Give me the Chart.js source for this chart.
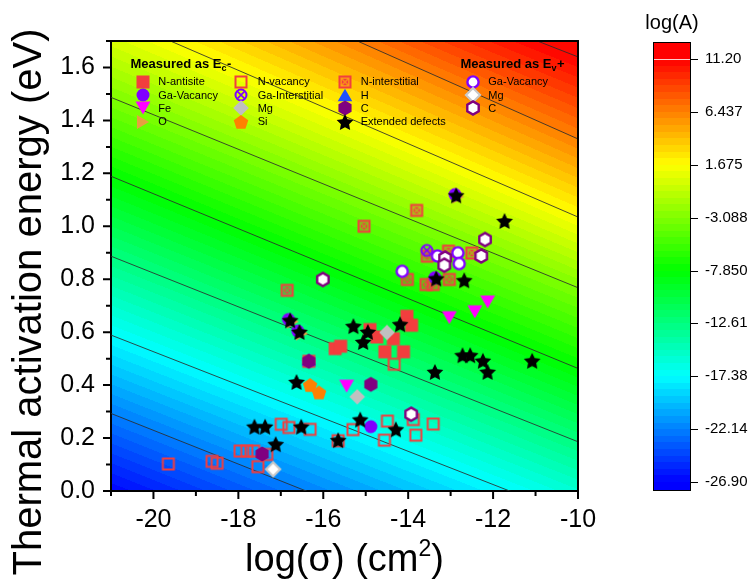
<!DOCTYPE html>
<html><head><meta charset="utf-8">
<script src="https://cdn.jsdelivr.net/npm/chart.js@4"></script>
<style>html,body{margin:0;padding:0;background:#fff;}#wrap{width:748px;height:581px;}</style>
</head><body><div id="wrap"><canvas id="c" width="748" height="581"></canvas></div>
<script>
// ---------------- data ----------------
const X_TICKS = [-20, -18, -16, -14, -12, -10];
const X_MINOR = [-21, -19, -17, -15, -13, -11];
const Y_TICKS = [0, 0.2, 0.4, 0.6, 0.8, 1.0, 1.2, 1.4, 1.6];
const Y_MINOR = [0.1, 0.3, 0.5, 0.7, 0.9, 1.1, 1.3, 1.5, 1.7];
const CB_TICKS = [11.2, 6.437, 1.675, -3.088, -7.85, -12.61, -17.38, -22.14, -26.9];
const CB_LABELS = ['11.20', '6.437', '1.675', '-3.088', '-7.850', '-12.61', '-17.38', '-22.14', '-26.90'];
// contour lines of log(A): energy where each level crosses x=-21 and x=-10
const CONTOUR_X = [-21, -10];
const CONTOUR_LEVELS = [-26.9, -22.1375, -17.375, -12.6125, -7.85, -3.0875, 1.675, 6.4375, 11.2];
const CONTOUR_LEFT_E = [-0.007, 0.293, 0.589, 0.887, 1.189, 1.487, 1.797, 2.113, 2.33];
const CONTOUR_RIGHT_E = [-0.708, -0.408, -0.101, 0.186, 0.463, 0.768, 1.035, 1.33, 1.64];

const EXT = [[-12.87,1.117],[-11.73,1.02],[-16.78,0.645],[-16.56,0.601],[-13.34,0.803],[-12.68,0.796],[-14.19,0.63],[-15.29,0.623],[-15.06,0.563],[-14.95,0.601],[-12.72,0.513],[-12.54,0.513],[-12.24,0.492],[-12.13,0.45],[-11.08,0.492],[-13.37,0.45],[-16.63,0.412],[-15.13,0.27],[-14.29,0.233],[-17.62,0.243],[-17.37,0.243],[-16.52,0.243],[-17.12,0.177],[-15.65,0.192]];
const EV_C = [[-16.01,0.799],[-12.19,0.95],[-12.28,0.888],[-13.13,0.88],[-13.15,0.853],[-13.93,0.29]];
const EV_GAVAC = [[-14.14,0.83],[-13.31,0.888],[-12.83,0.9],[-12.8,0.859]];
const EV_MG = [[-17.18,0.082]];
const MG = [[-14.5,0.599],[-15.2,0.356]];
const C_EC = [[-16.34,0.49],[-14.88,0.403],[-17.44,0.14]];
const FE = [[-13.03,0.655],[-12.43,0.677],[-12.13,0.714],[-15.45,0.396]];
const SI = [[-16.31,0.40],[-16.1,0.372]];
const GAVAC = [[-14.88,0.243],[-12.9,1.12],[-16.82,0.648],[-16.6,0.604],[-13.37,0.806]];
const O_EC = [[-12.82,1.112],[-16.72,0.64],[-16.5,0.595]];
const H_EC = [[-16.34,0.497]];
const GAINT = [[-13.56,0.909]];
const NINT = [[-16.85,0.758],[-15.04,1.0],[-13.8,1.06],[-14.02,0.799],[-13.58,0.78],[-13.41,0.78],[-13.03,0.799],[-13.55,0.887],[-13.05,0.906],[-12.5,0.899]];
const NVAC = [[-19.65,0.102],[-18.62,0.112],[-18.5,0.105],[-17.96,0.151],[-17.8,0.151],[-17.64,0.151],[-17.33,0.138],[-17.54,0.092],[-16.99,0.252],[-16.81,0.24],[-16.31,0.233],[-15.3,0.232],[-15.65,0.19],[-14.49,0.264],[-13.88,0.27],[-13.41,0.253],[-13.82,0.211],[-14.56,0.192],[-14.33,0.479]];
const NANTI = [[-16.34,0.49],[-15.72,0.538],[-15.59,0.547],[-14.9,0.61],[-14.74,0.582],[-14.55,0.526],[-14.11,0.526],[-14.03,0.66],[-13.92,0.626],[-14.35,0.575]];

const LEGEND_EC = [
  ['N-antisite','nanti'],['Ga-Vacancy','gavac'],['Fe','fe'],['O','o'],
  ['N-vacancy','nvac'],['Ga-Interstitial','gaint'],['Mg','mg'],['Si','si'],
  ['N-interstitial','nint'],['H','h'],['C','c'],['Extended defects','ext']
];
const LEGEND_EV = [['Ga-Vacancy','evgavac'],['Mg','evmg'],['C','evc']];

// ---------------- styles ----------------
const FONT = '"Liberation Sans", Arial, Helvetica, sans-serif';
function makeMarker(w, fn){const c=document.createElement('canvas');c.width=w;c.height=w;const g=c.getContext('2d');g.translate(w/2,w/2);fn(g);return c;}
function poly(g,n,r,rot,dx,dy){g.beginPath();for(let i=0;i<n;i++){const a=rot+i*2*Math.PI/n;const px=dx+r*Math.cos(a),py=dy+r*Math.sin(a);i?g.lineTo(px,py):g.moveTo(px,py);}g.closePath();}
function starPath(g,R,r){g.beginPath();const dy=0.095*R;for(let i=0;i<10;i++){const a=-Math.PI/2+i*Math.PI/5;const rr=i%2?r:R;const px=rr*Math.cos(a),py=dy+rr*Math.sin(a);i?g.lineTo(px,py):g.moveTo(px,py);}g.closePath();}
const RED='#F23E3E', VIO='#8000FF', PUR='#800080';
const M = {
  nanti: makeMarker(16,g=>{g.fillStyle=RED;g.fillRect(-6.5,-6.5,13,13);}),
  nvac: makeMarker(16,g=>{g.strokeStyle=RED;g.lineWidth=2;g.strokeRect(-5.5,-5.5,11,11);}),
  nint: makeMarker(16,g=>{g.fillStyle=RED;g.fillRect(-6.5,-6.5,13,13);g.globalCompositeOperation='destination-out';g.strokeStyle='rgba(0,0,0,0.55)';g.lineWidth=1.6;g.beginPath();g.moveTo(-3.5,-3.5);g.lineTo(3.5,3.5);g.moveTo(3.5,-3.5);g.lineTo(-3.5,3.5);g.stroke();g.strokeRect(-3.8,-3.8,7.6,7.6);}),
  gavac: makeMarker(16,g=>{g.fillStyle=VIO;g.beginPath();g.arc(0,0,6.5,0,7);g.fill();}),
  gaint: makeMarker(16,g=>{g.strokeStyle=VIO;g.lineWidth=2;g.beginPath();g.arc(0,0,5.5,0,7);g.stroke();g.lineWidth=1.6;g.beginPath();g.moveTo(-3.6,-3.6);g.lineTo(3.6,3.6);g.moveTo(3.6,-3.6);g.lineTo(-3.6,3.6);g.stroke();}),
  fe: makeMarker(18,g=>{g.fillStyle='#FF00FF';poly(g,3,8.6,Math.PI/2,0,-2.1);g.fill();}),
  o: makeMarker(18,g=>{g.fillStyle='#E6A040';poly(g,3,8,0,-2,0);g.fill();}),
  mg: makeMarker(18,g=>{g.fillStyle='#C0C0C0';poly(g,4,7.8,0,0,0);g.fill();}),
  si: makeMarker(18,g=>{g.fillStyle='#FF8000';poly(g,5,7.6,-Math.PI/2,0,0.7);g.fill();}),
  h: makeMarker(18,g=>{g.fillStyle='#2050FF';poly(g,3,8.4,-Math.PI/2,0,2.1);g.fill();}),
  c: makeMarker(18,g=>{g.fillStyle=PUR;poly(g,6,7.6,-Math.PI/2,0,0);g.fill();}),
  ext: makeMarker(20,g=>{g.fillStyle='#000';starPath(g,8.8,4.3);g.fill();}),
  evgavac: makeMarker(18,g=>{g.fillStyle='#fff';g.strokeStyle=VIO;g.lineWidth=2.4;g.beginPath();g.arc(0,0,5.6,0,7);g.fill();g.stroke();}),
  evmg: makeMarker(18,g=>{g.fillStyle='#fff';g.strokeStyle='#C8C8C8';g.lineWidth=2.2;poly(g,4,7,0,0,0);g.fill();g.stroke();}),
  evc: makeMarker(18,g=>{g.fillStyle='#fff';g.strokeStyle=PUR;g.lineWidth=2.4;poly(g,6,6.6,-Math.PI/2,0,0);g.fill();g.stroke();})
};

// ---------------- colour field ----------------
const Z_MIN = CONTOUR_LEVELS[0], Z_MAX = CONTOUR_LEVELS[CONTOUR_LEVELS.length-1];
const NBANDS = 64;
const STOPS = [[0,[0,0,255]],[0.25,[0,255,255]],[0.5,[0,255,0]],[0.75,[255,255,0]],[1,[255,0,0]]];
function cmap(t){t=Math.max(0,Math.min(1,t));for(let i=1;i<STOPS.length;i++){if(t<=STOPS[i][0]){const [t0,c0]=STOPS[i-1],[t1,c1]=STOPS[i];const f=(t-t0)/(t1-t0);return c0.map((v,k)=>Math.round(v+(c1[k]-v)*f));}}return STOPS[STOPS.length-1][1];}
function bandColor(z){let b=Math.floor((z-Z_MIN)/(Z_MAX-Z_MIN)*NBANDS);b=Math.max(0,Math.min(NBANDS-1,b));return cmap((b+0.5)/NBANDS);}
function linesAt(x){const t=(x-CONTOUR_X[0])/(CONTOUR_X[1]-CONTOUR_X[0]);return CONTOUR_LEFT_E.map((l,i)=>l+(CONTOUR_RIGHT_E[i]-l)*t);}
function fieldZ(Es,E){const n=Es.length-1;const L=CONTOUR_LEVELS;
  if(E<Es[0])return L[0]-(Es[0]-E)/(Es[1]-Es[0])*(L[1]-L[0]);
  for(let k=0;k<n;k++){if(E<Es[k+1])return L[k]+(E-Es[k])/(Es[k+1]-Es[k])*(L[k+1]-L[k]);}
  return L[n]+(E-Es[n])/(Es[n]-Es[n-1])*(L[n]-L[n-1]);}

const bgPlugin = {id:'bg', beforeDraw(chart){
  const {ctx, chartArea:a, scales:{x,y}} = chart;
  const L=Math.round(a.left), T=Math.round(a.top), W=Math.round(a.right)-L, H=Math.round(a.bottom)-T;
  const img=ctx.createImageData(W,H);
  for(let i=0;i<W;i++){const Es=linesAt(x.getValueForPixel(L+i+0.5));
    for(let j=0;j<H;j++){const c=bandColor(fieldZ(Es,y.getValueForPixel(T+j+0.5)));const p=(j*W+i)*4;img.data[p]=c[0];img.data[p+1]=c[1];img.data[p+2]=c[2];img.data[p+3]=255;}}
  ctx.putImageData(img,L,T);
}};

// ---------------- decorations ----------------
const decoPlugin = {id:'deco', afterDraw(chart){
  const {ctx, chartArea:a, scales:{x,y}} = chart;
  ctx.save();
  // frame
  ctx.strokeStyle='#000'; ctx.lineWidth=2;
  ctx.beginPath(); ctx.moveTo(a.left-1,a.top); ctx.lineTo(a.right,a.top); ctx.lineTo(a.right,a.bottom+1); ctx.stroke();
  // ticks
  ctx.beginPath();
  X_TICKS.forEach(v=>{const p=x.getPixelForValue(v);ctx.moveTo(p,a.bottom);ctx.lineTo(p,a.bottom+8);});
  X_MINOR.forEach(v=>{const p=x.getPixelForValue(v);ctx.moveTo(p,a.bottom);ctx.lineTo(p,a.bottom+5);});
  Y_TICKS.forEach(v=>{const p=y.getPixelForValue(v);ctx.moveTo(a.left,p);ctx.lineTo(a.left-8,p);});
  Y_MINOR.forEach(v=>{const p=y.getPixelForValue(v);ctx.moveTo(a.left,p);ctx.lineTo(a.left-5,p);});
  ctx.stroke();
  // axis titles
  ctx.fillStyle='#000';
  ctx.font='38px '+FONT; ctx.textBaseline='alphabetic';
  const t1='log(\u03C3) (cm', t3=')';
  const w1=ctx.measureText(t1).width, w3=ctx.measureText(t3).width;
  ctx.font='23px '+FONT; const w2=ctx.measureText('2').width;
  let sx=(a.left+a.right)/2-(w1+w2+w3)/2; const by=571;
  ctx.font='38px '+FONT; ctx.textAlign='left'; ctx.fillText(t1,sx,by);
  ctx.font='23px '+FONT; ctx.fillText('2',sx+w1,by-15);
  ctx.font='38px '+FONT; ctx.fillText(t3,sx+w1+w2,by);
  ctx.save(); ctx.translate(41,302); ctx.rotate(-Math.PI/2); ctx.textAlign='center';
  ctx.font='40px '+FONT;
  ctx.fillText('Thermal activation energy (eV)',0,0); ctx.restore();

  // colour bar
  const cb={x:653,y:42,w:37,h:448,pTop:59,pBot:482};
  const cy=v=>cb.pBot-(v-Z_MIN)/(Z_MAX-Z_MIN)*(cb.pBot-cb.pTop);
  let c=cmap(1); ctx.fillStyle=`rgb(${c})`; ctx.fillRect(cb.x,cb.y,cb.w,cb.pTop-cb.y);
  c=cmap(0); ctx.fillStyle=`rgb(${c})`; ctx.fillRect(cb.x,cb.pBot,cb.w,cb.y+cb.h-cb.pBot);
  for(let b=0;b<NBANDS;b++){const z0=Z_MIN+b*(Z_MAX-Z_MIN)/NBANDS,z1=Z_MIN+(b+1)*(Z_MAX-Z_MIN)/NBANDS;
    c=cmap((b+0.5)/NBANDS); ctx.fillStyle=`rgb(${c})`; const y1=Math.round(cy(z1)),y0=Math.round(cy(z0)); ctx.fillRect(cb.x,y1,cb.w,y0-y1);}
  ctx.strokeStyle='rgba(255,255,255,0.8)'; ctx.lineWidth=1; ctx.beginPath(); ctx.moveTo(cb.x,Math.round(cy(Z_MAX))+0.5); ctx.lineTo(cb.x+cb.w,Math.round(cy(Z_MAX))+0.5); ctx.stroke();
  ctx.strokeStyle='#000'; ctx.lineWidth=1; ctx.strokeRect(cb.x+0.5,cb.y+0.5,cb.w,cb.h);
  ctx.beginPath();
  CB_TICKS.forEach(v=>{const p=Math.round(cy(v))+0.5;ctx.moveTo(cb.x+cb.w,p);ctx.lineTo(cb.x+cb.w+8,p);});
  ctx.stroke();
  ctx.fillStyle='#000';
  ctx.font='15px '+FONT; ctx.textAlign='left'; ctx.textBaseline='middle';
  CB_TICKS.forEach((v,i)=>ctx.fillText(CB_LABELS[i],cb.x+cb.w+15,cy(v)));
  ctx.font='20px '+FONT; ctx.textAlign='center'; ctx.textBaseline='alphabetic';
  ctx.fillText('log(A)',cb.x+cb.w/2+0.5,29);

  // legend
  ctx.fillStyle='#000';
  const hdr=(txt,sub,tail,x0,yb)=>{ctx.textAlign='left';ctx.font='bold 13px '+FONT;ctx.fillText(txt,x0,yb);let w=ctx.measureText(txt).width;
    ctx.font='bold 9px '+FONT;ctx.fillText(sub,x0+w,yb+3);w+=ctx.measureText(sub).width;ctx.font='bold 13px '+FONT;ctx.fillText(tail,x0+w+0.5,yb);};
  ctx.textBaseline='alphabetic';
  hdr('Measured as E','c','-',130.5,67.5);
  hdr('Measured as E','v','+',460.5,67.5);
  const rows=[81.7,95,108.3,121.7], symX=[143.3,241,345,473.3], txtX=[158.3,257.7,360.7,488.3];
  ctx.font='11px '+FONT; ctx.textAlign='left'; ctx.textBaseline='middle';
  LEGEND_EC.forEach(([lab,k],i)=>{const col=Math.floor(i/4),row=i%4;const m=M[k];
    ctx.drawImage(m,Math.round(symX[col]-m.width/2),Math.round(rows[row]-m.height/2));ctx.fillText(lab,txtX[col],rows[row]+0.5);});
  LEGEND_EV.forEach(([lab,k],row)=>{const m=M[k];
    ctx.drawImage(m,Math.round(symX[3]-m.width/2),Math.round(rows[row]-m.height/2));ctx.fillText(lab,txtX[3],rows[row]+0.5);});
  ctx.restore();
}};

// ---------------- chart ----------------
const pts = arr => arr.map(([x,y])=>({x,y}));
const series = [
  ['Extended defects',EXT,'ext'],['C (Ev)',EV_C,'evc'],['Ga-Vacancy (Ev)',EV_GAVAC,'evgavac'],['Mg (Ev)',EV_MG,'evmg'],
  ['Mg',MG,'mg'],['C',C_EC,'c'],['Fe',FE,'fe'],['Si',SI,'si'],['Ga-Vacancy',GAVAC,'gavac'],['O',O_EC,'o'],['H',H_EC,'h'],
  ['Ga-Interstitial',GAINT,'gaint'],['N-interstitial',NINT,'nint'],['N-vacancy',NVAC,'nvac'],['N-antisite',NANTI,'nanti']
];
const datasets = series.map(([label,d,k])=>({label,data:pts(d),pointStyle:M[k],pointRadius:6,pointHoverRadius:6,showLine:false}));
CONTOUR_LEVELS.forEach((lv,i)=>{ if(i===0) return;
  datasets.push({type:'line',label:'level '+lv,data:[{x:CONTOUR_X[0],y:CONTOUR_LEFT_E[i]},{x:CONTOUR_X[1],y:CONTOUR_RIGHT_E[i]}],
    borderColor:'rgba(45,45,45,0.85)',borderWidth:1,pointRadius:0,showLine:true,fill:false});});

new Chart(document.getElementById('c'),{
  type:'scatter',
  data:{datasets},
  options:{
    responsive:false, animation:false, events:[],
    layout:{padding:{left:0,top:41,right:170,bottom:0}},
    plugins:{legend:{display:false},tooltip:{enabled:false}},
    scales:{
      x:{type:'linear',position:'bottom',min:-21,max:-10,
        afterBuildTicks:s=>{s.ticks=X_TICKS.map(v=>({value:v}));},
        afterFit:s=>{s.height=90;},
        grid:{display:false,drawTicks:false},
        border:{display:true,color:'#000',width:2},
        ticks:{color:'#000',font:{family:FONT,size:25},padding:14,maxRotation:0,autoSkip:false,callback:v=>String(v)}},
      y:{type:'linear',position:'left',min:0,max:1.7,
        afterBuildTicks:s=>{s.ticks=Y_TICKS.map(v=>({value:v}));},
        afterFit:s=>{s.width=111;},
        grid:{display:false,drawTicks:false},
        border:{display:true,color:'#000',width:2},
        ticks:{color:'#000',font:{family:FONT,size:25},padding:16,autoSkip:false,callback:v=>Number(v).toFixed(1)}}
    }
  },
  plugins:[bgPlugin,decoPlugin]
});
</script></body></html>
